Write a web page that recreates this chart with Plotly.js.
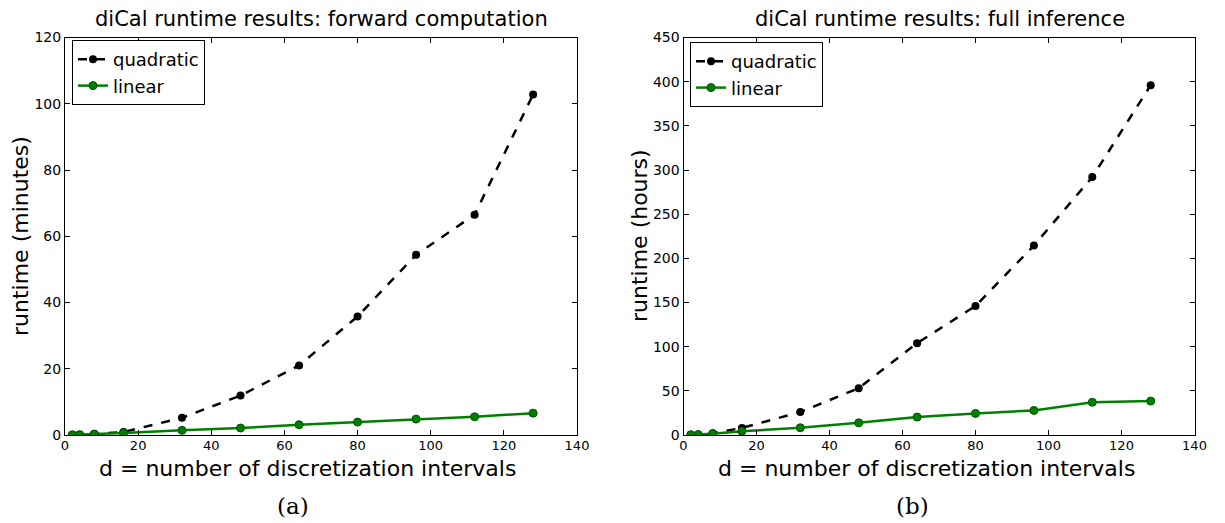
<!DOCTYPE html>
<html><head><meta charset="utf-8">
<script src="https://cdn.plot.ly/plotly-3.0.1.min.js"></script>
<style>html,body{margin:0;padding:0;background:#fff}</style>
</head><body>
<div id="chart" style="width:1225px;height:523px"></div>
<script>
const dValues = [2, 4, 8, 16, 32, 48, 64, 80, 96, 112, 128];
const fwdQuadratic = [0.05, 0.1, 0.3, 0.9, 5.2, 11.9, 21.0, 35.8, 54.4, 66.5, 102.8];
const fwdLinear = [0.05, 0.1, 0.3, 0.6, 1.4, 2.1, 3.1, 3.9, 4.8, 5.5, 6.6];
const infQuadratic = [0.2, 0.5, 2, 8, 26, 53, 104, 146, 214.5, 292, 396];
const infLinear = [0.3, 0.5, 1.5, 4.3, 8.2, 13.8, 20.3, 24.4, 27.8, 37, 38.4];
const seriesNames = ['quadratic', 'linear'];
const titles = ['diCal runtime results: forward computation', 'diCal runtime results: full inference'];
const yTitles = ['runtime (minutes)', 'runtime (hours)'];
const xTitle = 'd = number of discretization intervals';
const captions = ['(a)', '(b)'];

const W = 1225, H = 523;
const font = 'DejaVu Sans, sans-serif';
const black = '#000000', green = '#008000';

function qTrace(y, xa, ya, leg, show) {
  return {x: dValues, y: y, xaxis: xa, yaxis: ya, name: seriesNames[0], legend: leg,
    mode: 'lines+markers', line: {color: black, width: 2.5, dash: 'dash'},
    marker: {color: black, size: 8}, showlegend: show};
}
function lTrace(y, xa, ya, leg, show) {
  return {x: dValues, y: y, xaxis: xa, yaxis: ya, name: seriesNames[1], legend: leg,
    mode: 'lines+markers', line: {color: green, width: 2.5},
    marker: {color: green, size: 8, line: {color: '#005000', width: 1}}, showlegend: show};
}
const data = [
  qTrace(fwdQuadratic, 'x', 'y', 'legend', true),
  lTrace(fwdLinear, 'x', 'y', 'legend', true),
  qTrace(infQuadratic, 'x2', 'y2', 'legend2', true),
  lTrace(infLinear, 'x2', 'y2', 'legend2', true)
];

const yTop = 1 - 37.5 / H, yBot = 1 - 435 / H;
function xAxis(dom, anchor) {
  return {domain: dom, anchor: anchor, range: [0, 140], dtick: 20, tick0: 0,
    ticks: 'inside', ticklen: 5, tickcolor: black, showline: true, linecolor: black, linewidth: 1,
    mirror: 'ticks', showgrid: false, zeroline: false, ticklabelstandoff: -2,
    tickfont: {family: font, size: 13, color: black}};
}
function yAxis(range, dtick, anchor) {
  return {domain: [yBot, yTop], anchor: anchor, range: range, dtick: dtick, tick0: 0,
    ticks: 'inside', ticklen: 5, tickcolor: black, showline: true, linecolor: black, linewidth: 1,
    mirror: 'ticks', showgrid: false, zeroline: false,
    tickfont: {family: font, size: 14, color: black}};
}
const x1 = [65 / W, 577 / W], x2 = [683.5 / W, 1194.5 / W];

function ann(text, xpx, ypx, size, extra) {
  return Object.assign({text: text, x: xpx / W, y: 1 - ypx / H, xref: 'paper', yref: 'paper',
    showarrow: false, xanchor: 'center', yanchor: 'middle',
    font: {family: font, size: size, color: black}}, extra || {});
}

const legendStyle = (xpx, ypx) => ({x: xpx / W, y: 1 - ypx / H, xanchor: 'left', yanchor: 'top',
  bgcolor: '#ffffff', bordercolor: black, borderwidth: 1,
  font: {family: font, size: 18, color: black}, itemwidth: 30, tracegroupgap: 0});

const layout = {
  width: W, height: H, margin: {l: 0, r: 0, t: 0, b: 0},
  paper_bgcolor: '#ffffff', plot_bgcolor: '#ffffff',
  showlegend: true,
  xaxis: xAxis(x1, 'y'), yaxis: yAxis([0, 120], 20, 'x'),
  xaxis2: xAxis(x2, 'y2'), yaxis2: yAxis([0, 450], 50, 'x2'),
  legend: legendStyle(72, 40),
  legend2: legendStyle(690, 42),
  annotations: [
    ann(titles[0], 321, 19, 21),
    ann(titles[1], 940, 19, 21),
    ann(yTitles[0], 20, 236, 22, {textangle: -90}),
    ann(yTitles[1], 639, 236, 22, {textangle: -90}),
    ann(xTitle, 307, 468, 22),
    ann(xTitle, 926, 468, 22),
    ann(captions[0], 293, 506, 23, {font: {family: 'DejaVu Serif, serif', size: 23, color: black}}),
    ann(captions[1], 912, 506, 23, {font: {family: 'DejaVu Serif, serif', size: 23, color: black}})
  ]
};
Plotly.newPlot('chart', data, layout, {displayModeBar: false, staticPlot: true});
</script>
</body></html>
